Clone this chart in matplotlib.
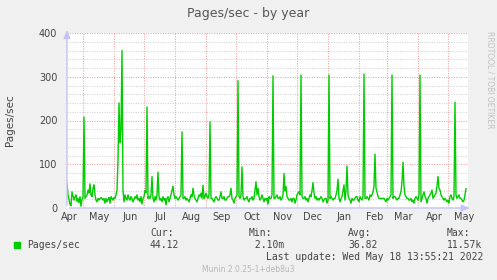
import pandas as pd
import matplotlib
matplotlib.use("Agg")
import matplotlib.pyplot as plt

# daily Pages/sec values, starting 2021-04-15
pages = [
    56, 30, 20, 8, 5, 37, 28, 18, 25, 30, 15, 22, 12, 26, 4, 20, 24, 208, 22, 26,
    30, 41, 34, 55, 30, 26, 45, 53, 30, 18, 14, 22, 18, 22, 24, 22, 18, 22, 11, 22,
    14, 20, 24, 11, 26, 22, 18, 24, 22, 30, 40, 110, 240, 150, 180, 360, 40, 14, 30, 22,
    18, 30, 22, 18, 26, 22, 14, 20, 26, 22, 30, 18, 22, 14, 26, 9, 22, 26, 40, 35,
    231, 22, 26, 22, 30, 72, 22, 14, 26, 18, 30, 82, 26, 18, 22, 14, 26, 18, 22, 7,
    22, 26, 14, 22, 30, 40, 50, 30, 22, 26, 22, 18, 22, 26, 30, 174, 22, 22, 26, 18,
    22, 18, 14, 22, 30, 26, 45, 30, 22, 18, 14, 22, 30, 26, 34, 22, 52, 22, 26, 34,
    26, 22, 30, 197, 22, 22, 18, 14, 22, 26, 22, 18, 18, 26, 37, 22, 22, 26, 18, 18,
    22, 26, 26, 30, 45, 22, 18, 11, 22, 26, 30, 291, 26, 22, 30, 94, 26, 18, 22, 22,
    26, 18, 14, 22, 22, 26, 18, 22, 40, 60, 30, 45, 26, 18, 22, 30, 22, 14, 22, 18,
    22, 9, 26, 22, 22, 30, 302, 22, 22, 26, 30, 22, 22, 26, 18, 22, 30, 79, 40, 49,
    26, 22, 18, 18, 22, 14, 22, 22, 11, 18, 30, 34, 37, 30, 304, 26, 22, 22, 26, 18,
    22, 14, 22, 30, 26, 40, 58, 34, 22, 26, 18, 22, 18, 22, 26, 22, 14, 18, 22, 22,
    11, 18, 304, 22, 26, 22, 18, 22, 22, 30, 40, 66, 22, 14, 22, 26, 40, 53, 18, 40,
    96, 30, 22, 18, 11, 22, 18, 18, 22, 26, 26, 18, 14, 26, 22, 18, 26, 306, 22, 22,
    26, 22, 18, 30, 26, 30, 37, 50, 123, 45, 37, 26, 22, 22, 22, 22, 22, 22, 18, 14,
    22, 18, 22, 26, 30, 304, 22, 26, 26, 22, 18, 22, 22, 30, 37, 60, 105, 50, 30, 26,
    22, 22, 18, 18, 22, 14, 18, 11, 22, 26, 22, 18, 30, 304, 14, 22, 30, 37, 26, 22,
    11, 22, 26, 30, 34, 41, 22, 26, 30, 34, 50, 72, 45, 41, 30, 26, 22, 18, 22, 18,
    14, 18, 11, 26, 30, 22, 18, 26, 242, 30, 22, 26, 30, 22, 22, 18, 14, 18, 30, 44,
]
days = pd.date_range("2021-04-15", periods=len(pages), freq="D")
month_starts = pd.date_range("2021-04-01", "2022-05-01", freq="MS")
month_names = ["Apr", "May", "Jun", "Jul", "Aug", "Sep", "Oct", "Nov", "Dec",
               "Jan", "Feb", "Mar", "Apr", "May"]
y_ticks = [0, 100, 200, 300, 400]
legend_stats = [("Cur:", "44.12"), ("Min:", " 2.10m"), ("Avg:", "36.82"), ("Max:", "11.57k")]

bg = "#f0f0f0"
text_c = "#444444"
axis_c = "#c4c4f4"

fig = plt.figure(figsize=(4.97, 2.8), dpi=100, facecolor=bg)
ax = fig.add_axes([67 / 497, 72 / 280, 401 / 497, 175 / 280])
ax.set_facecolor("white")

x0 = pd.Timestamp("2021-04-15")
ax.set_xlim(x0, x0 + pd.Timedelta(days=401))
ax.set_ylim(0, 400)

# grid: minor gray every 20, major red every 100 and at month starts
dots = (0, (1, 1.2))
for v in range(20, 400, 20):
    if v % 100:
        ax.axhline(v, color="#d6d6d6", lw=0.8, ls=dots, zorder=1)
for v in range(100, 401, 100):
    ax.axhline(v, color="#f2a8a8", lw=0.8, ls=dots, zorder=1.5)
for m in month_starts[1:]:
    ax.axvline(m, color="#f2a8a8", lw=0.8, ls=dots, zorder=1.5)

ax.plot(days, pages, color="#00cc00", lw=1.0, zorder=3)

for s in ax.spines.values():
    s.set_visible(False)
ax.set_yticks(y_ticks)
ax.set_yticklabels([str(v) for v in y_ticks])
ax.set_xticks([m + pd.Timedelta(days=16) for m in month_starts])
ax.set_xticklabels(month_names)
ax.tick_params(length=0, labelsize=7, labelcolor=text_c, pad=3)
ax.tick_params(axis="y", pad=7)
ax.set_ylabel("Pages/sec", fontsize=7.5, color=text_c, labelpad=17)

# axis arrows
ax.annotate("", xy=(0, 1.035), xytext=(0, 0), xycoords="axes fraction",
            arrowprops=dict(arrowstyle="-|>,head_length=0.5,head_width=0.2", color=axis_c, lw=1),
            annotation_clip=False, zorder=4)
ax.annotate("", xy=(1.012, 0), xytext=(0, 0), xycoords="axes fraction",
            arrowprops=dict(arrowstyle="-|>,head_length=0.5,head_width=0.2", color=axis_c, lw=1),
            annotation_clip=False, zorder=4)

fig.text(248 / 497, 1 - 13 / 280, "Pages/sec - by year", ha="center", va="center",
         fontsize=9, color="#555555")
fig.text(490 / 497, 1 - 80 / 280, "RRDTOOL / TOBI OETIKER", rotation=-90, ha="center",
         va="center", fontsize=5.5, color="#c0c0c0")

# legend block
mono = "DejaVu Sans Mono"
fig.patches.append(plt.Rectangle((14 / 497, 1 - 248 / 280), 6 / 497, 6 / 280,
                                 transform=fig.transFigure, color="#00cc00"))
fig.text(27 / 497, 1 - 245 / 280, "Pages/sec", family=mono, fontsize=7, color=text_c, va="center")
for i, (lab, val) in enumerate(legend_stats):
    xs = (150 + 99 * i) / 497
    fig.text(xs, 1 - 233 / 280, lab, family=mono, fontsize=7, color=text_c, va="center")
    fig.text(xs, 1 - 245 / 280, val, family=mono, fontsize=7, color=text_c, va="center")
fig.text(483 / 497, 1 - 257 / 280, "Last update: Wed May 18 13:55:21 2022", family=mono,
         fontsize=7, color=text_c, va="center", ha="right")
fig.text(248 / 497, 1 - 270 / 280, "Munin 2.0.25-1+deb8u3", fontsize=5.5, color="#b8b8b8",
         va="center", ha="center")

fig.savefig("out.png", dpi=100, facecolor=bg)
